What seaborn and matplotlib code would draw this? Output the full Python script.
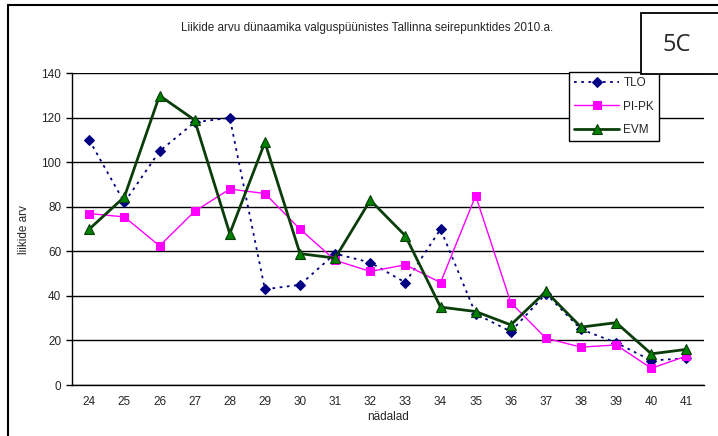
import matplotlib
matplotlib.use("Agg")
import matplotlib.pyplot as plt
import seaborn as sns
import pandas as pd
from matplotlib.patches import Rectangle
from matplotlib.ticker import FixedLocator

weeks = ["24", "25", "26", "27", "28", "29", "30", "31", "32", "33",
         "34", "35", "36", "37", "38", "39", "40", "41"]
tlo = [110, 82, 105, 118, 120, 43, 45, 59, 55, 46, 70, 32, 24, 41, 25, 19, 11, 12]
pipk = [77, 75.5, 62.5, 78, 88, 86, 70, 56, 51, 54, 46, 85, 37, 21, 17, 18, 7.5, 13]
evm = [70, 84.5, 130, 119, 68, 109, 59, 57, 83, 67, 35, 33, 27, 42, 26, 28, 14, 16]
yticks = [0, 20, 40, 60, 80, 100, 120, 140]

title = "Liikide arvu dünaamika valguspüünistes Tallinna seirepunktides 2010.a."

sns.set_style("white")
plt.rcParams["font.family"] = ["Liberation Sans", "DejaVu Sans"]

W, H = 718, 436
fig = plt.figure(figsize=(W / 100, H / 100), dpi=100)
ax = fig.add_axes([71.7 / W, 1 - 385 / H, (704 - 71.7) / W, (385 - 73.3) / H])

df_tlo = pd.DataFrame({"week": weeks, "val": tlo})
df_pipk = pd.DataFrame({"week": weeks, "val": pipk})
df_evm = pd.DataFrame({"week": weeks, "val": evm})

sns.lineplot(data=df_tlo, x="week", y="val", ax=ax, color="#000080", lw=1.3,
             linestyle=(0, (1.5, 2.5)), marker="D", markersize=5.5,
             markerfacecolor="#000080", markeredgecolor="#000080",
             label="TLO", zorder=3)
sns.lineplot(data=df_pipk, x="week", y="val", ax=ax, color="#FF00FF", lw=1.0,
             marker="s", markersize=6, markerfacecolor="#FF00FF",
             markeredgecolor="#FF00FF", label="PI-PK", zorder=4)
sns.lineplot(data=df_evm, x="week", y="val", ax=ax, color="#0B3D0B", lw=2.0,
             marker="^", markersize=7, markerfacecolor="#008000",
             markeredgecolor="#0B3D0B", markeredgewidth=0.8,
             label="EVM", zorder=5)

ax.set_xlim(-0.5, len(weeks) - 0.5)
ax.set_ylim(0, 140)
ax.set_yticks(yticks)
ax.yaxis.grid(True, color="black", lw=1.0)
ax.xaxis.grid(False)
ax.set_axisbelow(True)
for s in ["top", "right"]:
    ax.spines[s].set_visible(False)
for s in ["left", "bottom"]:
    ax.spines[s].set_color("black")
    ax.spines[s].set_linewidth(1.0)

ax.tick_params(axis="x", which="major", length=0, labelsize=8.5, pad=8)
ax.xaxis.set_minor_locator(FixedLocator([i - 0.5 for i in range(len(weeks) + 1)]))
ax.tick_params(axis="x", which="minor", length=4, width=1, color="black", direction="out")
ax.tick_params(axis="y", which="major", length=4, width=1, color="black",
               direction="out", labelsize=8.5, left=True)

ax.set_xlabel("nädalad", fontsize=8.5, labelpad=2)
ax.set_ylabel("liikide arv", fontsize=8.5, labelpad=8)

leg = ax.legend(loc="upper left", bbox_to_anchor=(569 / W, 1 - 72 / H),
                bbox_transform=fig.transFigure, fontsize=8.5, frameon=True,
                fancybox=False, edgecolor="black", framealpha=1,
                handlelength=3.8, borderpad=0.45, labelspacing=0.95,
                handletextpad=0.35, borderaxespad=0)
leg.get_frame().set_linewidth(1.0)
leg.set_zorder(10)

fig.text(367 / W, 1 - 28 / H, title, ha="center", va="center", fontsize=8.5)

# outer chart frame
fig.add_artist(Rectangle((7.5 / W, -0.05), 1.2, 1.05 - 5.5 / H,
                         transform=fig.transFigure, fill=False,
                         edgecolor="black", lw=1.5))
# 5C box
fig.add_artist(Rectangle((641 / W, 1 - 74 / H), 0.2, (74 - 13) / H,
                         transform=fig.transFigure, fill=True, facecolor="white",
                         edgecolor="black", lw=1.3, zorder=1))
fig.text(677 / W, 1 - 45 / H, "5C", ha="center", va="center", fontsize=17,
         family=["Open Sans", "DejaVu Sans"], zorder=2)

fig.savefig("out.png", dpi=100, facecolor="white")
